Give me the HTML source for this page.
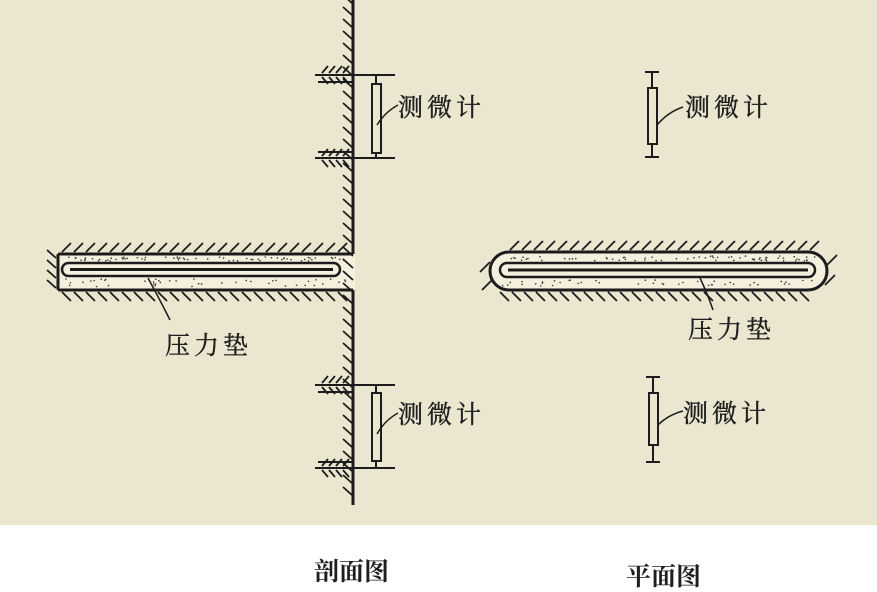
<!DOCTYPE html>
<html><head><meta charset="utf-8"><style>
html,body{margin:0;padding:0;background:#fff;width:877px;height:592px;overflow:hidden}
svg{display:block}
text{font-family:"Liberation Serif","Noto Serif CJK SC",serif;fill:#1e1e1e}
</style></head><body>
<svg id="s" width="877" height="592" viewBox="0 0 877 592" xmlns="http://www.w3.org/2000/svg">
<rect x="0" y="0" width="877" height="525" fill="#ebe6cf"/>
<g id="g" stroke="#1c1c1c" fill="none" stroke-width="2">
<line x1="353" y1="0" x2="353" y2="505" stroke-width="3"/>
<line x1="315" y1="75" x2="395" y2="75"/><line x1="318" y1="82" x2="353" y2="82"/>
<line x1="315" y1="158" x2="395" y2="158"/><line x1="318" y1="152" x2="353" y2="152"/>
<line x1="315" y1="385" x2="395" y2="385"/><line x1="318" y1="392" x2="353" y2="392"/>
<line x1="315" y1="468" x2="395" y2="468"/><line x1="318" y1="462" x2="353" y2="462"/>
<line x1="376" y1="75" x2="376" y2="84"/><rect x="372" y="84" width="9" height="69"/><line x1="376" y1="153" x2="376" y2="158"/>
<path d="M377 125 Q385 112 398 105" stroke-width="1.5"/>
<line x1="376" y1="385" x2="376" y2="393"/><rect x="372" y="393" width="9" height="68"/><line x1="376" y1="461" x2="376" y2="468"/>
<path d="M377 434 Q385 420 398 413" stroke-width="1.5"/>
<rect x="58" y="254" width="297" height="36" fill="#f5f0de" stroke="none"/>
<line x1="58" y1="254" x2="353" y2="254" stroke-width="3"/>
<line x1="58" y1="290" x2="353" y2="290" stroke-width="3"/>
<line x1="58" y1="254" x2="58" y2="290" stroke-width="3"/>
<rect x="62" y="263" width="278" height="13" rx="6.5" stroke-width="2.5"/>
<line x1="70" y1="269.5" x2="333" y2="269.5" stroke-width="3"/>
<path d="M148 278 Q160 300 170 320" stroke-width="1.5"/>
<line x1="645" y1="72" x2="659" y2="72"/><line x1="652" y1="72" x2="652" y2="88"/><rect x="648" y="88" width="9" height="56"/><line x1="652" y1="144" x2="652" y2="157"/><line x1="645" y1="157" x2="659" y2="157"/>
<path d="M657 125 Q668 112 683 107" stroke-width="1.5"/>
<line x1="646" y1="377" x2="660" y2="377"/><line x1="653" y1="377" x2="653" y2="393"/><rect x="649" y="393" width="9" height="52"/><line x1="653" y1="445" x2="653" y2="462"/><line x1="646" y1="462" x2="660" y2="462"/>
<path d="M658 425 Q668 415 683 411" stroke-width="1.5"/>
<rect x="490" y="252" width="337" height="38" rx="19" fill="#f5f0de" stroke-width="3"/>
<rect x="500" y="263" width="315" height="14" rx="7" stroke-width="2.5"/>
<line x1="508" y1="270" x2="808" y2="270" stroke-width="3"/>
<path d="M700 278 Q708 295 713 310" stroke-width="1.5"/>
</g>
<g font-size="25" letter-spacing="4" stroke="#1e1e1e" stroke-width="0.4">
<text x="398" y="116">测微计</text>
<text x="398" y="423">测微计</text>
<text x="685" y="116">测微计</text>
<text x="683" y="422">测微计</text>
<text x="165" y="354">压力垫</text>
<text x="688" y="338">压力垫</text>
</g>
<text x="314" y="580" font-size="25" font-weight="bold">剖面图</text>
<text x="626" y="585" font-size="25" font-weight="bold">平面图</text>
</svg>
<script>
var g=document.getElementById('g'),ns="http://www.w3.org/2000/svg";
function L(a,b,c,d){var l=document.createElementNS(ns,'line');l.setAttribute('x1',a);l.setAttribute('y1',b);l.setAttribute('x2',c);l.setAttribute('y2',d);l.setAttribute('stroke-width','1.8');g.appendChild(l);}
for(var y=4;y<500;y+=12){L(353,y,343,y-9);}
[75,158,385,468].forEach(function(y){for(var x=322;x<350;x+=7){L(x,y-2,x+6,y-9);L(x,y+2,x+6,y+9);}});
for(var x=62;x<350;x+=12){L(x,252,x+9,243);L(x,292,x+9,301);}
for(var y=258;y<292;y+=10){L(56,y,47,y-8);}
for(var i=0;i<220;i++){var c=document.createElementNS(ns,'circle');var px,py;
 if(i<110){px=64+Math.random()*285;py=(Math.random()<.5?257+Math.random()*4:279+Math.random()*8);}
 else{px=500+Math.random()*315;py=(Math.random()<.5?256+Math.random()*5:280+Math.random()*6);}
 c.setAttribute('cx',px);c.setAttribute('cy',py);c.setAttribute('r',0.8);c.setAttribute('fill','#333');c.setAttribute('stroke','none');g.appendChild(c);}
for(var x=510;x<820;x+=12){L(x,250,x+9,241);L(x-10,292,x-1,301);}
L(490,262,480,272);L(492,280,482,290);L(827,265,837,255);L(825,285,835,275);
</script>
</body></html>
